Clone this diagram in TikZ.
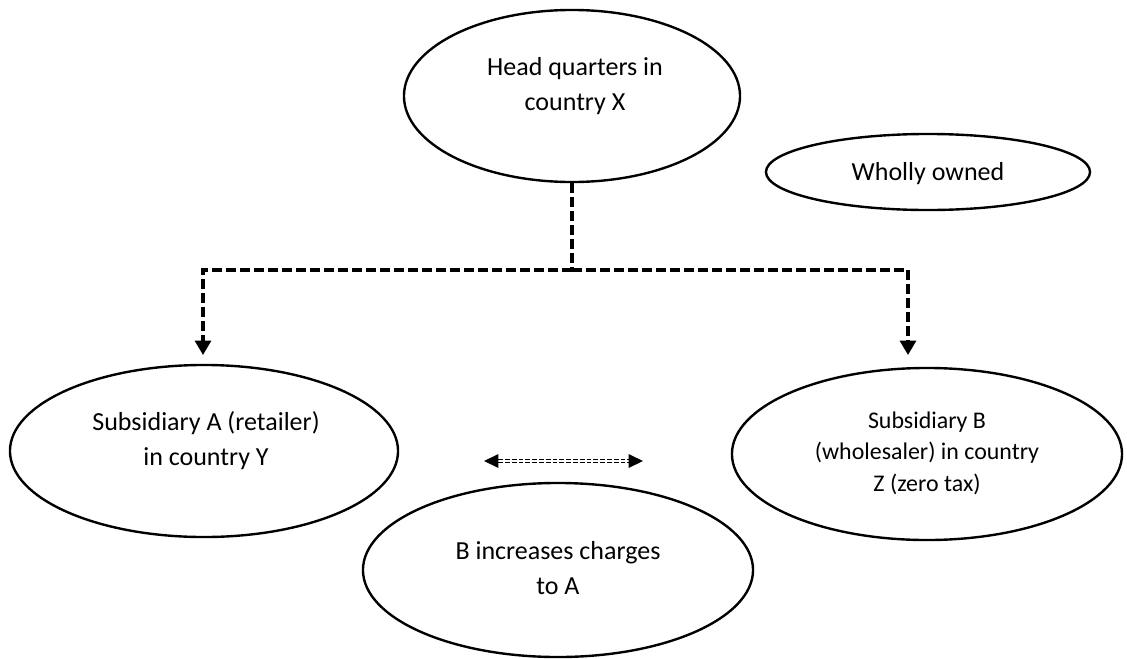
\documentclass[tikz,border=0pt]{standalone}
\usepackage{fontspec}
\setmainfont{Carlito}
\usetikzlibrary{calc, positioning}
\usetikzlibrary{arrows.meta}
\usetikzlibrary{shapes.geometric}

\begin{document}
\begin{tikzpicture}[x=0.025cm, y=-0.025cm,
    oval/.style={ellipse, draw=black, line width=1.7pt, inner sep=0pt},
    lbl/.style={align=center, font=\fontsize{18.5}{24.9}\selectfont},
    link/.style={line width=2.2pt, dash pattern=on 0.25cm off 0.1cm},
    tip/.style={-{Triangle[length=0.36cm, width=0.4cm]}}]
\useasboundingbox (0,0) rectangle (1127,659);

% The five ellipses
\node[oval, minimum width=8.4cm, minimum height=4.3cm] (hq) at (572,96) {};
\node[oval, minimum width=8.1cm, minimum height=1.9cm] (owned) at (928,172) {};
\node[oval, minimum width=9.7cm, minimum height=4.3cm] (subA) at (204,451) {};
\node[oval, minimum width=9.75cm, minimum height=4.3cm] (subB) at (927,454) {};
\node[oval, minimum width=9.75cm, minimum height=4.35cm] (charges) at (558,570) {};

% Texts
\node[lbl] (hqtext) at (575,86) {Head quarters in\\country X};
\node[lbl] (ownedtext) at (928,174) {Wholly owned};
\node[lbl] (subAtext) at (206,441) {Subsidiary A (retailer)\\in country Y};
\node[lbl, font=\fontsize{17}{22.3}\selectfont] (subBtext) at (927,453)
    {Subsidiary B\\(wholesaler) in country\\Z (zero tax)};
\node[lbl] (chargestext) at (558,568) {B increases charges\\to A};

% Ownership lines
\coordinate (split) at (572,270);
\coordinate (tipA) at (203,355);
\coordinate (tipB) at (908,355);
\draw[link] (hq.south) -- (split);
\draw[link, tip] (split) -| (tipA);
\draw[link, tip] (split) -| (tipB);

% Charges between the subsidiaries
\coordinate (chL) at (484,461);
\coordinate (chR) at (643,461);
\draw[double, line width=0.8pt, double distance=1.4pt,
    dash pattern=on 0.12cm off 0.05cm,
    {Triangle[length=0.36cm, width=0.34cm]}-{Triangle[length=0.36cm, width=0.34cm]}]
    (chL) -- (chR);
\end{tikzpicture}
\end{document}
